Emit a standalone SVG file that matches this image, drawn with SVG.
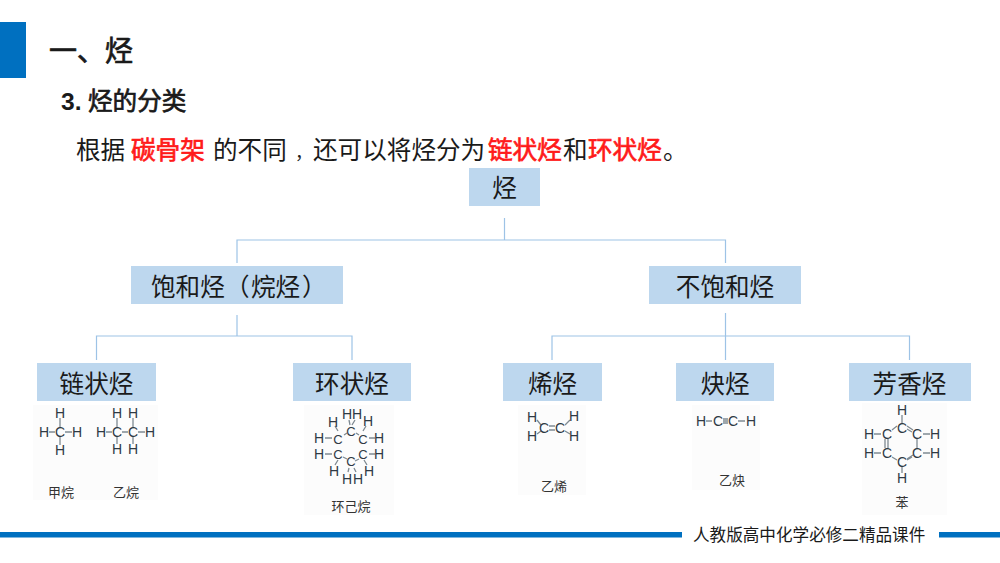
<svg xmlns="http://www.w3.org/2000/svg" width="1000" height="563" viewBox="0 0 1000 563">
<style>
text{font-family:"Noto Sans CJK SC","Liberation Sans",sans-serif;fill:#1a1a1a}
.box{fill:#bdd7ee}
.lbl{font-size:24.6px;text-anchor:middle}
.lbll{font-size:24.6px}
.tc{font-family:"Noto Sans CJK TC",sans-serif}
.body{font-size:24.6px}
.red{fill:#ff1a1a;stroke:#ff1a1a;stroke-width:.7}
.hd{stroke:#1a1a1a;stroke-width:.7}
.conn{fill:none;stroke:#9dc3e6;stroke-width:1.2}
.bar{fill:#0070c0}
.bg{fill:#fcfcfc}
.a{font-family:"Liberation Sans",sans-serif;font-size:14px;text-anchor:middle;fill:#2f3a44}
.a2{font-size:13px}
.b{stroke:#7f8a92;stroke-width:1.3;fill:none}
.cap{font-size:13px;text-anchor:middle;fill:#333}
</style>
<g id="header">
<rect class="bar" x="0" y="22" width="26" height="56"/>
<text class="hd" x="49" y="61" font-size="28">一、烃</text>
<text class="hd" x="61" y="110" font-size="24.6"><tspan font-family="Liberation Sans" font-weight="700" stroke="none">3.</tspan><tspan x="88">烃的分类</tspan></text>
<text class="body" y="159"><tspan x="76">根据</tspan><tspan x="131" class="red">碳骨架</tspan><tspan x="213">的不同</tspan><tspan x="295" font-size="17.500">，</tspan><tspan x="313">还可以将烃分为</tspan><tspan x="488" class="red">链状烃</tspan><tspan x="563">和</tspan><tspan x="588" class="red">环状烃</tspan><tspan x="663">。</tspan></text>
</g>
<g id="connectors">
<path class="conn" d="M504.500 218V240M237 263V240H725.500V263"/>
<path class="conn" d="M237 315V336M96.500 360V336H352V360"/>
<path class="conn" d="M725.500 313V360M552 360V336H909.500V360"/>
</g>
<g id="node-root"><rect class="box" x="469" y="168" width="71" height="38"/><text class="lbl" x="504.500" y="197">烃</text></g>
<g id="node-saturated"><rect class="box" x="131" y="266" width="212" height="38"/><text class="lbll" y="296"><tspan x="151">饱和烃</tspan><tspan x="225" class="tc">（</tspan><tspan x="251">烷烃</tspan><tspan x="302" class="tc">）</tspan></text></g>
<g id="node-unsaturated"><rect class="box" x="649" y="266" width="152" height="38"/><text class="lbl" x="725" y="296">不饱和烃</text></g>
<g id="node-chain"><rect class="box" x="37" y="363" width="119" height="38"/><text class="lbl" x="96.500" y="393">链状烃</text></g>
<g id="node-ring"><rect class="box" x="293" y="363" width="118" height="38"/><text class="lbl" x="352" y="393">环状烃</text></g>
<g id="node-alkene"><rect class="box" x="503" y="363" width="99" height="38"/><text class="lbl" x="552.500" y="393">烯烃</text></g>
<g id="node-alkyne"><rect class="box" x="676" y="363" width="98" height="38"/><text class="lbl" x="725" y="393">炔烃</text></g>
<g id="node-aromatic"><rect class="box" x="849" y="363" width="122" height="38"/><text class="lbl" x="909.500" y="393">芳香烃</text></g>
<g id="alkanes">
<rect class="bg" x="33" y="405" width="125" height="95"/>
<path class="b" d="M60 418V427M60 437V445M49 432H55M65 432H72M117 418V427M133 418V427M117 437V444M133 437V444M106 432H112M122 432H128M138 432H145"/>
<g class="atoms"><text class="a" x="60" y="418">H</text><text class="a" x="44" y="437">H</text><text class="a" x="60" y="437">C</text><text class="a" x="77" y="437">H</text><text class="a" x="60" y="455">H</text><text class="a" x="117" y="418">H</text><text class="a" x="133" y="418">H</text><text class="a" x="101" y="437">H</text><text class="a" x="117" y="437">C</text><text class="a" x="133" y="437">C</text><text class="a" x="150" y="437">H</text><text class="a" x="117" y="454">H</text><text class="a" x="133" y="454">H</text></g>
<text class="cap" x="61" y="497">甲烷</text><text class="cap" x="126" y="497">乙烷</text>
</g>
<g id="cyclohexane">
<rect class="bg" x="304" y="405" width="90" height="110"/>
<path class="b" d="M344 435L347 433M356 433L359 435M325 438H332M369 438H375M325 454H332M369 454H375M335 426L338 431M366 426L363 431M349 420L350 425M355 420L352 425M338 460L335 465M364 460L367 465M349 468L348 472M354 468L356 472M343 457L347 459M359 459L355 461"/>
<text class="a" x="347" y="419">H</text><text class="a" x="357" y="419">H</text><text class="a" x="333" y="427">H</text><text class="a" x="368" y="426">H</text><text class="a a2" x="351" y="436">C</text><text class="a a2" x="338" y="444">C</text><text class="a a2" x="363" y="444">C</text><text class="a" x="319" y="443">H</text><text class="a" x="379" y="443">H</text><text class="a a2" x="338" y="459">C</text><text class="a a2" x="363" y="459">C</text><text class="a" x="319" y="459">H</text><text class="a" x="379" y="459">H</text><text class="a a2" x="351" y="466">C</text><text class="a" x="334" y="476">H</text><text class="a" x="369" y="476">H</text><text class="a" x="347" y="484">H</text><text class="a" x="358" y="484">H</text>
<text class="cap" x="351" y="511">环己烷</text>
</g>
<g id="ethylene">
<rect class="bg" x="518" y="405" width="68" height="90"/>
<path class="b" d="M537 420L541 425M537 434L541 431M565 425L570 420M565 431L570 434M549 426H555M549 430H555"/>
<text class="a" x="532" y="422">H</text><text class="a" x="574" y="421">H</text><text class="a" x="532" y="441">H</text><text class="a" x="574" y="441">H</text><text class="a" x="544" y="433">C</text><text class="a" x="560" y="433">C</text>
<text class="cap" x="554" y="491">乙烯</text>
</g>
<g id="acetylene">
<rect class="bg" x="692" y="405" width="68" height="85"/>
<path class="b" d="M706 421H712M723 419H728M723 421H728M723 423H728M738 421H745"/>
<text class="a" x="701" y="426">H</text><text class="a" x="718" y="426">C</text><text class="a" x="733" y="426">C</text><text class="a" x="751" y="426">H</text>
<text class="cap" x="732" y="485">乙炔</text>
</g>
<g id="benzene">
<rect class="bg" x="862" y="403" width="85" height="112"/>
<path class="b" d="M902 415V423M907 426L913 430M907 429L912 432M917 439V448M897 426L892 430M885 439V448M888 439V448M892 457L897 460M912 457L907 460M913 455L907 459M902 467V473M874 434H881M923 434H930M874 453H881M923 453H930"/>
<text class="a" x="902" y="415">H</text><text class="a" x="902" y="433">C</text><text class="a" x="917" y="439">C</text><text class="a" x="887" y="439">C</text><text class="a" x="935" y="439">H</text><text class="a" x="869" y="439">H</text><text class="a" x="917" y="458">C</text><text class="a" x="887" y="458">C</text><text class="a" x="935" y="458">H</text><text class="a" x="869" y="458">H</text><text class="a" x="902" y="467">C</text><text class="a" x="902" y="483">H</text>
<text class="cap" x="902" y="507">苯</text>
</g>
<g id="footer">
<rect class="bar" x="0" y="532" width="682" height="5.500"/>
<rect class="bar" x="939" y="532" width="61" height="5.500"/>
<text x="693" y="541" font-size="16.600">人教版高中化学必修二精品课件</text>
</g>
</svg>
